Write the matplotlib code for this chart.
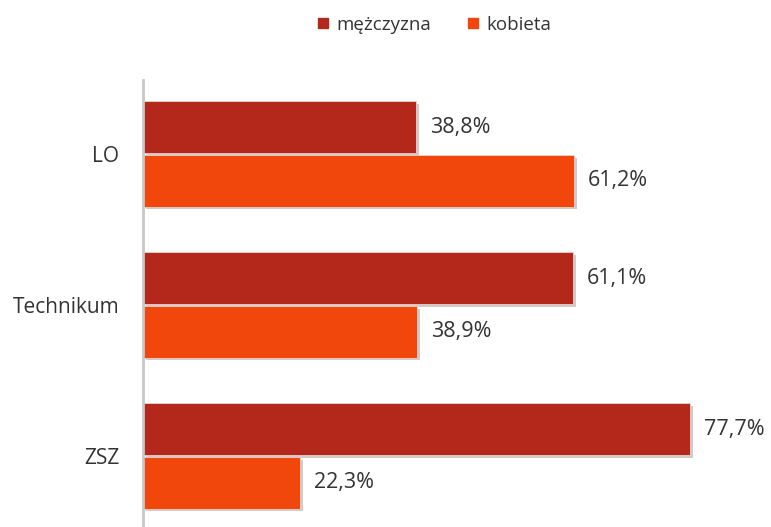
import numpy as np
import matplotlib.pyplot as plt
import matplotlib.patheffects as pe
from matplotlib.lines import Line2D

categories = ["LO", "Technikum", "ZSZ"]
series_names = ["mężczyzna", "kobieta"]
men = [38.8, 61.1, 77.7]
women = [61.2, 38.9, 22.3]

COLORS = ["#B3281B", "#F2470C"]
plt.rcParams["font.family"] = ["Open Sans", "DejaVu Sans"]

fig = plt.figure(figsize=(7.71, 5.27), dpi=100)
ax = fig.add_axes([143 / 771, 0.0, 1 - 143 / 771, 1 - 80 / 527])

y = np.arange(len(categories))
h = 0.34
shadow = [pe.SimplePatchShadow(offset=(2, -2), shadow_rgbFace="#9a9a9a", alpha=0.5), pe.Normal()]

for vals, off, col in [(men, -0.178, COLORS[0]), (women, 0.178, COLORS[1])]:
    bars = ax.barh(y + off, vals, height=h, color=col, edgecolor="#f3d0c8", linewidth=0.6)
    for b, v in zip(bars, vals):
        b.set_path_effects(shadow)
        ax.text(v + 2.0, b.get_y() + b.get_height() / 2, f"{v:.1f}%".replace(".", ","),
                va="center", ha="left", fontsize=15.5, color="#333333")

ax.set_xlim(0, 89.2)
ax.set_ylim(2.47, -0.49)
ax.set_yticks(y)
ax.set_yticklabels(categories, fontsize=15, color="#333333")
ax.tick_params(axis="y", length=0, pad=17)
ax.set_xticks([])
for s in ["top", "right", "bottom"]:
    ax.spines[s].set_visible(False)
ax.spines["left"].set_color("#c8c8c8")
ax.spines["left"].set_linewidth(2)

handles = [Line2D([], [], marker="s", linestyle="", markersize=7.5, color=c) for c in COLORS]
fig.legend(handles, series_names, loc="center", bbox_to_anchor=(0.5625, 1 - 25 / 527), ncol=2,
           frameon=False, fontsize=13.5, handlelength=0.8, handletextpad=0.3, columnspacing=1.85,
           labelcolor="#333333")

fig.savefig("out.png", dpi=100)
